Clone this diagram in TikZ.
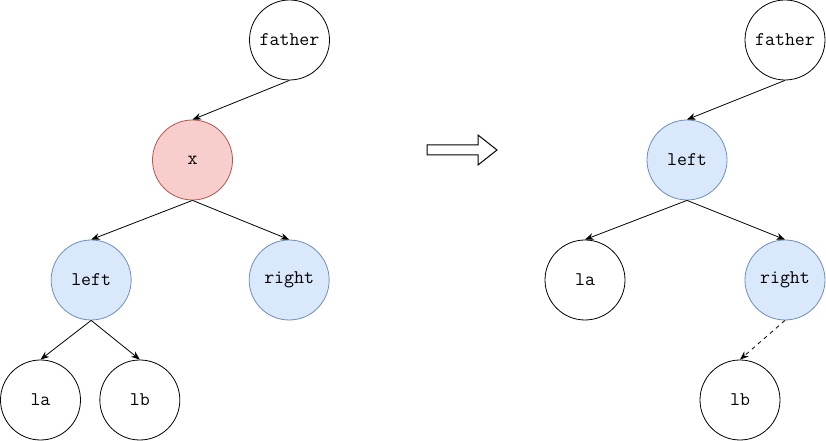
\documentclass[tikz,border=0pt]{standalone}
\usepackage{fontspec}
\usetikzlibrary{positioning, arrows.meta}
\definecolor{redfill}{HTML}{F8CECC}
\definecolor{redline}{HTML}{B85450}
\definecolor{bluefill}{HTML}{DAE8FC}
\definecolor{blueline}{HTML}{6C8EBF}

\begin{document}
\begin{tikzpicture}[x=0.75pt, y=-0.75pt, on grid, >={Stealth[length=6.5pt, width=5pt]},
    vert/.style={circle, draw, minimum size=60pt, inner sep=0pt, line width=0.6pt, font=\ttfamily\fontsize{14.5}{16}\selectfont},
    pivot/.style={vert, fill=redfill, draw=redline},
    moved/.style={vert, fill=bluefill, draw=blueline}]
   \useasboundingbox (0,0) rectangle (826,441);
   % before
   \node[vert] (father_1) at (289.5,40) {father};
   \node[pivot] (x_1) [below left=90pt and 72.75pt of father_1] {x};
   \node[moved] (left_1) [below left=90pt and 76pt of x_1] {left};
   \node[moved] (right_1) [below right=90pt and 72.5pt of x_1] {right};
   \node[vert] (la_1) [below left=90pt and 38pt of left_1] {la};
   \node[vert] (lb_1) [below right=90pt and 36.5pt of left_1] {lb};
   % after
   \node[vert] (father_2) at (785,40) {father};
   \node[moved] (left_2) [below left=90pt and 73.5pt of father_2] {left};
   \node[vert] (la_2) [below left=90pt and 76.5pt of left_2] {la};
   \node[moved] (right_2) [below right=90pt and 73.5pt of left_2] {right};
   \node[vert] (lb_2) [below left=90pt and 33.75pt of right_2] {lb};
   \path[->, line width=0.6pt]
    (father_1.south) edge (x_1.north)
    (x_1.south) edge (left_1.north)
    (x_1.south) edge (right_1.north)
    (left_1.south) edge (la_1.north)
    (left_1.south) edge (lb_1.north)
    (father_2.south) edge (left_2.north)
    (left_2.south) edge (la_2.north)
    (left_2.south) edge (right_2.north)
    (right_2.south) edge [dashed] (lb_2.north)
    ;
   \draw[line width=0.75pt] (427,145) -- (478,145) -- (478,135) -- (497,150)
    -- (478,165) -- (478,155) -- (427,155) -- cycle;
\end{tikzpicture}
\end{document}
